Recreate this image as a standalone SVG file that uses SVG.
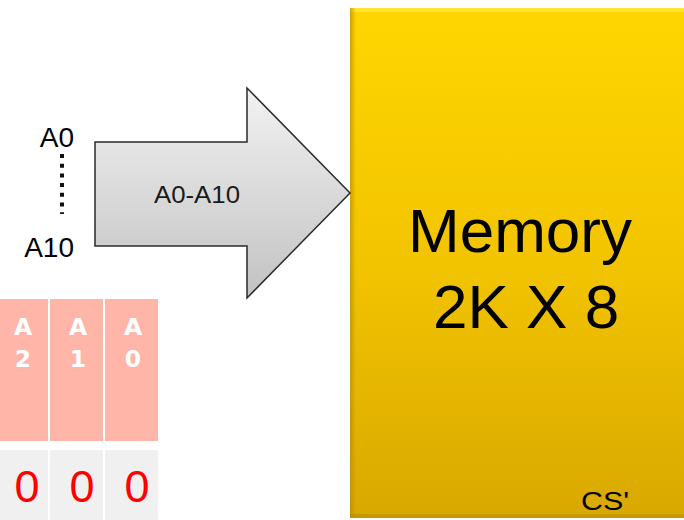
<svg xmlns="http://www.w3.org/2000/svg" width="684" height="520" viewBox="0 0 684 520">
  <defs>
    <linearGradient id="memGrad" x1="0" y1="0" x2="0" y2="1">
      <stop offset="0" stop-color="#ffd600"/>
      <stop offset="0.5" stop-color="#f2c400"/>
      <stop offset="1" stop-color="#d9a800"/>
    </linearGradient>
    <linearGradient id="arrowGrad" x1="0" y1="0" x2="0" y2="1">
      <stop offset="0" stop-color="#f2f2f2"/>
      <stop offset="1" stop-color="#c2c2c2"/>
    </linearGradient>
    <linearGradient id="leftShade" x1="0" y1="0" x2="1" y2="0">
      <stop offset="0" stop-color="#b88c00" stop-opacity="0.7"/>
      <stop offset="1" stop-color="#b88c00" stop-opacity="0"/>
    </linearGradient>
    <style>
      .sans { font-family: "Liberation Sans", Arial, sans-serif; }
      .hdr { font-family: "DejaVu Sans", Verdana, sans-serif; font-weight: bold; font-size: 23.5px; fill: #ffffff; text-anchor: middle; }
      .bit { font-family: "Liberation Sans", Arial, sans-serif; font-size: 45px; fill: #ff0000; text-anchor: middle; }
      .pink { fill: #ffb6a8; }
      .gray { fill: #f0f0f0; }
    </style>
  </defs>

  <rect x="0" y="0" width="684" height="520" fill="#ffffff"/>

  <g id="memory">
    <rect x="350" y="8" width="340" height="510" fill="url(#memGrad)"/>
    <rect x="350" y="8" width="340" height="4" fill="#ffe83a" opacity="0.8"/>
    <rect x="350" y="8" width="6" height="510" fill="url(#leftShade)"/>
    <rect x="350" y="514" width="340" height="4" fill="#b88c00" opacity="0.6"/>
    <text class="sans" x="520" y="252" font-size="62" text-anchor="middle" fill="#000000">Memory</text>
    <text class="sans" x="433" y="328" font-size="62" fill="#000000">2K X 8</text>
    <text class="sans" x="581" y="510" font-size="25" fill="#000000" textLength="48" lengthAdjust="spacingAndGlyphs">CS'</text>
  </g>

  <g id="connectors">
    <g id="address-arrow">
      <polygon points="95,142 247,142 247,88 350,193 247,298 247,246 95,246" fill="url(#arrowGrad)" stroke="#2a2a2a" stroke-width="1.5" stroke-linejoin="miter"/>
      <text class="sans" x="154" y="203" font-size="23" fill="#1a1a1a" textLength="86" lengthAdjust="spacingAndGlyphs">A0-A10</text>
    </g>
  </g>

  <g id="address-lines">
    <text class="sans" x="74" y="147" font-size="28" text-anchor="end" fill="#000000">A0</text>
    <line x1="62" y1="154" x2="62" y2="214" stroke="#111111" stroke-width="4" stroke-dasharray="4 5.7"/>
    <text class="sans" x="74" y="257" font-size="28" text-anchor="end" fill="#000000">A10</text>
  </g>

  <g id="bit-table">
    <rect class="pink" x="0" y="299" width="48" height="142"/>
    <rect class="pink" x="50" y="299" width="53" height="142"/>
    <rect class="pink" x="105" y="299" width="53" height="142"/>
    <text class="hdr" x="23" y="335">A</text>
    <text class="hdr" x="23" y="367">2</text>
    <text class="hdr" x="78" y="335">A</text>
    <text class="hdr" x="78" y="367">1</text>
    <text class="hdr" x="133" y="335">A</text>
    <text class="hdr" x="133" y="367">0</text>

    <rect class="gray" x="0" y="450" width="48" height="70"/>
    <rect class="gray" x="50" y="450" width="53" height="70"/>
    <rect class="gray" x="105" y="450" width="53" height="70"/>
    <text class="bit" x="27" y="502">0</text>
    <text class="bit" x="82" y="502">0</text>
    <text class="bit" x="137" y="502">0</text>
  </g>
</svg>
